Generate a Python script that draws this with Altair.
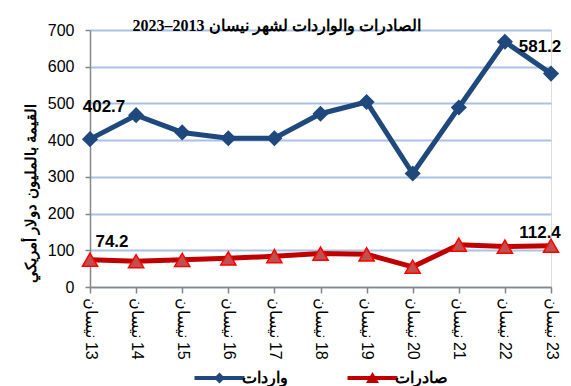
import altair as alt
import pandas as pd

years = ["13", "14", "15", "16", "17", "18", "19", "20", "21", "22", "23"]
month_labels = ["نيسان\u200e " + y for y in years]
imports = [402.7, 468, 421, 405, 405, 472, 504, 309, 489, 668, 581.2]
exports = [74.2, 70, 74, 78, 84, 91, 89, 55, 115, 110, 112.4]
series_names = ["واردات", "صادرات"]
y_ticks = [0, 100, 200, 300, 400, 500, 600, 700]

rows = []
for i, lab in enumerate(month_labels):
    rows.append({"label": lab, "idx": i, "series": series_names[0], "value": imports[i]})
    rows.append({"label": lab, "idx": i, "series": series_names[1], "value": exports[i]})
df = pd.DataFrame(rows)

FONT = "Liberation Sans"
TFONT = "Liberation Serif"
IMP_COL = "#1F497D"
EXP_LINE = "#C00000"
EXP_FILL = "#C0504D"
EXP_STROKE = "#FF0000"

x_enc = alt.X(
    "label:N",
    sort=month_labels,
    scale=alt.Scale(padding=0),
    axis=alt.Axis(
        title=None, labelAngle=90, labelAlign="left", labelBaseline="middle",
        labelFontSize=16, labelFont=FONT, labelColor="black", labelPadding=4,
        tickSize=6, tickColor="#868686", domainColor="#868686", domainWidth=1.5,
        tickWidth=1.5, grid=False, zindex=1,
    ),
)
y_enc = alt.Y(
    "value:Q",
    scale=alt.Scale(domain=[0, 700], nice=False),
    axis=alt.Axis(
        values=y_ticks, title="القيمة بالمليون دولار أمريكي",
        titleFont=FONT, titleFontSize=15, titleFontWeight="bold", titleColor="black",
        titleX=-60, titleY=163, titleBaseline="middle", titleAngle=-90,
        labelFontSize=16, labelFont=FONT, labelColor="black", labelPadding=11,
        tickSize=5, tickColor="#868686", tickWidth=1.5,
        domainColor="#868686", domainWidth=1.5,
        grid=True, gridColor="#A9C2E4", gridWidth=2,
    ),
)

base = alt.Chart(df)
imp = base.transform_filter(alt.datum.series == series_names[0])
exp = base.transform_filter(alt.datum.series == series_names[1])

imp_line = imp.mark_line(color=IMP_COL, strokeWidth=5).encode(x=x_enc, y=y_enc)
exp_line = exp.mark_line(color=EXP_LINE, strokeWidth=5).encode(x=x_enc, y=y_enc)
imp_pts = imp.mark_point(shape="diamond", filled=True, color=IMP_COL, size=260, opacity=1).encode(x=x_enc, y=y_enc)
exp_pts = exp.mark_point(shape="triangle-up", filled=True, fill=EXP_FILL, stroke=EXP_STROKE,
                         strokeWidth=1.5, size=230, opacity=1).encode(x=x_enc, y=y_enc)

def ann(src, i, dx, dy):
    return src.transform_filter(alt.datum.idx == i).mark_text(
        font=FONT, fontSize=17, fontWeight="bold", color="black", dx=dx, dy=dy
    ).encode(x=x_enc, y=y_enc, text=alt.Text("value:Q", format=".1f"))

labels = [
    ann(imp, 0, 14, -32),
    ann(imp, 10, -11, -27),
    ann(exp, 0, 22, -18),
    ann(exp, 10, -11, -13),
]

path_imp = "M-0.9,-0.08 L1.1,-0.08 L1.1,0.08 L-0.9,0.08 Z M0.1,-0.22 L0.32,0 L0.1,0.22 L-0.12,0 Z"
path_exp = "M-0.9,-0.08 L1.1,-0.08 L1.1,0.08 L-0.9,0.08 Z M-0.16,0.2 L0.1,-0.24 L0.36,0.2 Z"

legend_layer = base.transform_filter("false").mark_point(filled=True, opacity=1).encode(
    color=alt.Color("series:N", scale=alt.Scale(domain=series_names, range=[IMP_COL, EXP_LINE]),
                    legend=alt.Legend(
                        title=None, orient="none", direction="horizontal",
                        legendX=102, legendY=323, symbolSize=2500, symbolOpacity=1,
                        labelFont=FONT, labelFontSize=16, labelFontWeight="bold",
                        labelColor="black", labelOffset=0, columnPadding=57,
                        symbolStrokeWidth=0,
                    )),
    shape=alt.Shape("series:N", scale=alt.Scale(domain=series_names, range=[path_imp, path_exp])),
)

chart = alt.layer(
    imp_line, exp_line, imp_pts, exp_pts, *labels, legend_layer
).properties(
    width=461, height=257,
    title=alt.TitleParams(
        "الصادرات والواردات لشهر نيسان 2013–2023",
        font=TFONT, fontSize=16, fontWeight="bold", color="black",
        anchor="middle", dx=-44, offset=-12,
    ),
    autosize=alt.AutoSizeParams(type="none"),
    padding={"left": 82, "top": 22, "right": 12, "bottom": 99},
).configure_view(stroke=None).configure(background="white")

chart.save("out.html", embed_options={"renderer": "svg", "actions": False})
